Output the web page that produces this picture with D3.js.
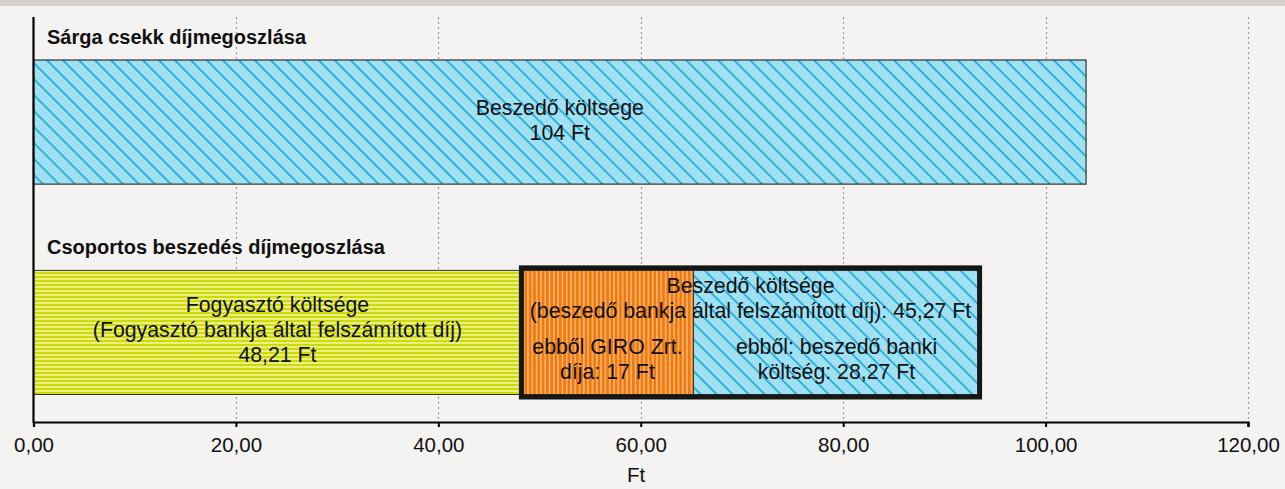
<!DOCTYPE html>
<html>
<head>
<meta charset="utf-8">
<script src="https://cdn.jsdelivr.net/npm/d3@7"></script>
<style>
  html, body { margin: 0; padding: 0; background: #f4f3f1; }
  svg { display: block; }
  text { font-family: "Liberation Sans", Arial, sans-serif; fill: #111; }
</style>
</head>
<body>
<svg id="chart" width="1285" height="489"></svg>
<script>
// Díjak megoszlása (Ft)
const categories = ["Sárga csekk díjmegoszlása", "Csoportos beszedés díjmegoszlása"];
const sargaValues = [104];
const sargaLabels = [["Beszedő költsége", "104 Ft"]];
const csoportosValues = [48.21, 17, 28.27];
const csoportosLabels = [
  ["Fogyasztó költsége", "(Fogyasztó bankja által felszámított díj)", "48,21 Ft"],
  ["ebből GIRO Zrt.", "díja: 17 Ft"],
  ["ebből: beszedő banki", "költség: 28,27 Ft"]
];
const beszedoOsszesen = 45.27;
const beszedoLabels = ["Beszedő költsége", "(beszedő bankja által felszámított díj): 45,27 Ft"];
const xTicks = [0, 20, 40, 60, 80, 100, 120];
const xTitle = "Ft";

const W = 1285, H = 489;
const svg = d3.select("#chart");

const hu = d3.formatLocale({ decimal: ",", thousands: " ", grouping: [3], currency: ["", " Ft"] });
const fmt = hu.format(".2f");

const x = d3.scaleLinear().domain([0, 120]).range([33.5, 1248]);
const y = d3.scaleBand().domain(categories).range([60, 394.5]).paddingInner(0.41).paddingOuter(0);

const LABEL = 21.3;
const LINE = 25;

// top strip
svg.append("rect").attr("x", 0).attr("y", 0).attr("width", W).attr("height", 6).attr("fill", "#d6d1cc");

// fill patterns
const defs = svg.append("defs");
const hatch = defs.append("pattern").attr("id", "hatchBlue").attr("patternUnits", "userSpaceOnUse")
  .attr("width", 11.3).attr("height", 11.3).attr("patternTransform", "rotate(-45)");
hatch.append("rect").attr("width", 11.3).attr("height", 11.3).attr("fill", "#9fe0f2");
hatch.append("line").attr("x1", 2).attr("y1", 0).attr("x2", 2).attr("y2", 11.3)
  .attr("stroke", "#0aa4d6").attr("stroke-width", 1.5);

const yel = defs.append("pattern").attr("id", "stripesYellow").attr("patternUnits", "userSpaceOnUse")
  .attr("width", 4).attr("height", 4);
yel.append("rect").attr("width", 4).attr("height", 4).attr("fill", "#d0dc00");
yel.append("rect").attr("y", 2).attr("width", 4).attr("height", 2).attr("fill", "#e7ee8a");

const org = defs.append("pattern").attr("id", "stripesOrange").attr("patternUnits", "userSpaceOnUse")
  .attr("width", 4.3).attr("height", 4);
org.append("rect").attr("width", 4.3).attr("height", 4).attr("fill", "#f07a0c");
org.append("rect").attr("x", 2.6).attr("width", 1.5).attr("height", 4).attr("fill", "#f8b87a");

// dotted gridlines
svg.append("g").selectAll("line").data(xTicks.slice(1)).join("line")
  .attr("x1", d => Math.round(x(d)) + 0.5).attr("x2", d => Math.round(x(d)) + 0.5)
  .attr("y1", 17).attr("y2", 422)
  .attr("stroke", "#9a9a9a").attr("stroke-width", 1.2).attr("stroke-dasharray", "2,3");

// category titles
svg.append("g").selectAll("text").data(categories).join("text")
  .attr("x", 47).attr("y", d => y(d) - 16)
  .attr("font-size", 20).attr("font-weight", "bold").text(d => d);

function stack(values) {
  let acc = 0;
  return values.map(v => { const s = { x0: acc, x1: acc + v, v }; acc += v; return s; });
}

const bw = y.bandwidth();
const fillIds = ["url(#stripesYellow)", "url(#stripesOrange)", "url(#hatchBlue)"];

// Sárga csekk bar
const s1 = stack(sargaValues);
const y1 = y(categories[0]);
svg.append("g").selectAll("rect").data(s1).join("rect")
  .attr("x", d => x(d.x0)).attr("y", y1).attr("width", d => x(d.x1) - x(d.x0)).attr("height", bw)
  .attr("fill", "url(#hatchBlue)").attr("stroke", "#333").attr("stroke-width", 1.2);

// Csoportos beszedés bars
const s2 = stack(csoportosValues);
const y2 = y(categories[1]);
svg.append("g").selectAll("rect").data(s2).join("rect")
  .attr("x", d => x(d.x0)).attr("y", y2).attr("width", d => x(d.x1) - x(d.x0)).attr("height", bw)
  .attr("fill", (d, i) => fillIds[i]).attr("stroke", "#333").attr("stroke-width", 1);

// frame around the collecting party's part
const bStart = csoportosValues[0], bEnd = csoportosValues[0] + beszedoOsszesen;
svg.append("rect")
  .attr("x", x(bStart)).attr("y", y2 - 2.5)
  .attr("width", x(bEnd) - x(bStart)).attr("height", bw + 5)
  .attr("fill", "none").attr("stroke", "#161616").attr("stroke-width", 5);

// axes
svg.append("line").attr("x1", 33.5).attr("x2", 33.5).attr("y1", 17).attr("y2", 423)
  .attr("stroke", "#000").attr("stroke-width", 2.2);
const xAxis = svg.append("g").attr("transform", "translate(0,422)")
  .call(d3.axisBottom(x).tickValues(xTicks).tickFormat(fmt).tickSize(5).tickPadding(10));
xAxis.select(".domain").attr("stroke", "#000").attr("stroke-width", 2.2);
xAxis.selectAll(".tick line").attr("stroke", "#000").attr("stroke-width", 2);
xAxis.selectAll(".tick text").attr("font-family", "Liberation Sans").attr("font-size", 20.5).attr("fill", "#111");

svg.append("text").attr("x", 636).attr("y", 482).attr("text-anchor", "middle")
  .attr("font-size", 20.5).text(xTitle);

// multi-line labels: one text element, one tspan per line
function label(g, cx, firstBaseline, lineH, arr, size) {
  const t = g.append("text").attr("text-anchor", "middle").attr("font-size", size);
  arr.forEach((s, i) => {
    t.append("tspan").attr("x", cx).attr("y", firstBaseline + i * lineH).text(s);
  });
}
const lab = svg.append("g");
const c1 = y1 + bw / 2, c2 = y2 + bw / 2;
label(lab, (x(s1[0].x0) + x(s1[0].x1)) / 2, c1 - 7, LINE, sargaLabels[0], LABEL);
label(lab, (x(s2[0].x0) + x(s2[0].x1)) / 2, c2 - 20.5, LINE, csoportosLabels[0], LABEL);
label(lab, (x(s2[1].x0) + x(s2[1].x1)) / 2, c2 + 21.5, LINE, csoportosLabels[1], LABEL);
label(lab, (x(s2[2].x0) + x(s2[2].x1)) / 2, c2 + 21.5, LINE, csoportosLabels[2], LABEL);
label(lab, (x(bStart) + x(bEnd)) / 2, c2 - 39, LINE, beszedoLabels, LABEL);
</script>
</body>
</html>
